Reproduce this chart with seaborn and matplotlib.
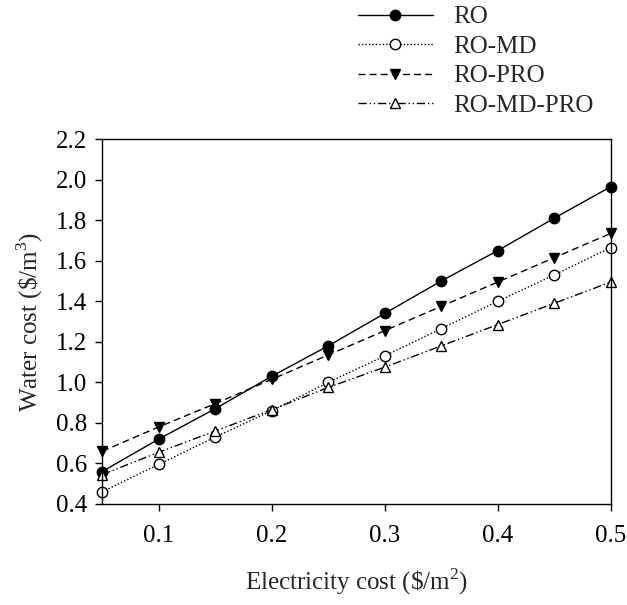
import matplotlib
matplotlib.use("Agg")
import matplotlib.pyplot as plt
import seaborn as sns
import pandas as pd

electricity_cost = [0.05, 0.10, 0.15, 0.20, 0.25, 0.30, 0.35, 0.40, 0.45, 0.50]
ro = [0.56, 0.72, 0.87, 1.03, 1.18, 1.34, 1.50, 1.65, 1.81, 1.965]
ro_md = [0.46, 0.595, 0.73, 0.86, 1.00, 1.13, 1.265, 1.40, 1.53, 1.665]
ro_pro = [0.66, 0.78, 0.895, 1.015, 1.135, 1.255, 1.375, 1.495, 1.615, 1.735]
ro_md_pro = [0.545, 0.655, 0.76, 0.865, 0.975, 1.075, 1.18, 1.285, 1.39, 1.495]

series_names = ["RO", "RO-MD", "RO-PRO", "RO-MD-PRO"]
series_values = [ro, ro_md, ro_pro, ro_md_pro]

sns.set_style("ticks")
plt.rcParams["font.family"] = ["Liberation Serif", "DejaVu Serif"]
plt.rcParams["mathtext.fontset"] = "custom"
plt.rcParams["mathtext.rm"] = "Liberation Serif"

fig = plt.figure(figsize=(6.27, 6.05), dpi=100)
ax = fig.add_axes([0.163, 0.167, 0.811, 0.603])

# line style / marker per series
styles = {
    "RO": dict(linestyle="-", marker="o", markerfacecolor="black"),
    "RO-MD": dict(linestyle=(0, (1, 1.5)), marker="o", markerfacecolor="white"),
    "RO-PRO": dict(linestyle=(0, (5, 3)), marker="v", markerfacecolor="black"),
    "RO-MD-PRO": dict(linestyle=(0, (6, 2, 1, 2, 1, 2)), marker="^", markerfacecolor="white"),
}

for name, vals in zip(series_names, series_values):
    df = pd.DataFrame({"x": electricity_cost, "y": vals})
    st = styles[name]
    sns.lineplot(data=df, x="x", y="y", ax=ax, color="black", linewidth=1.0,
                 linestyle=st["linestyle"], marker=st["marker"],
                 markerfacecolor=st["markerfacecolor"], markeredgecolor="black",
                 markeredgewidth=1.0, markersize=7.5, label=name, clip_on=False)

ax.set_xlim(0.05, 0.5)
ax.set_ylim(0.4, 2.2)
ax.set_xticks([0.1, 0.2, 0.3, 0.4, 0.5])
ax.set_yticks([0.4, 0.6, 0.8, 1.0, 1.2, 1.4, 1.6, 1.8, 2.0, 2.2])
ax.set_yticklabels([f"{v:.1f}" for v in [0.4, 0.6, 0.8, 1.0, 1.2, 1.4, 1.6, 1.8, 2.0, 2.2]])
ax.tick_params(axis="both", direction="out", length=5, width=1, labelsize=18, colors="black")
ax.tick_params(axis="x", pad=10)
ax.tick_params(axis="y", pad=6)
for s in ax.spines.values():
    s.set_visible(True)
    s.set_linewidth(1.0)
    s.set_color("black")

ax.set_xlabel(r"Electricity cost (\$/m$^\mathrm{2}$)", fontsize=18, labelpad=14)
ax.set_ylabel(r"Water cost (\$/m$^\mathrm{3}$)", fontsize=18, labelpad=8)

handles, labels = ax.get_legend_handles_labels()
ax.legend(handles, labels, loc="upper left", bbox_to_anchor=(0.555, 1.007),
          bbox_transform=fig.transFigure, frameon=False, fontsize=18,
          handlelength=3.0, handletextpad=0.8, labelspacing=0.28, borderaxespad=0.0)

fig.savefig("out.png", dpi=100)
